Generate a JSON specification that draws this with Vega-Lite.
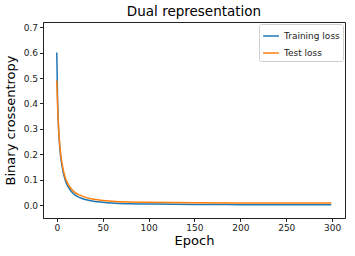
{
  "$schema": "https://vega.github.io/schema/vega-lite/v6.json",
  "width": 302,
  "height": 196,
  "autosize": "none",
  "padding": {"left": 43, "top": 22, "right": 10, "bottom": 38},
  "background": "white",
  "config": {
    "font": "DejaVu Sans",
    "view": {"stroke": "#222222", "strokeWidth": 1},
    "axis": {"grid": false, "domainColor": "#222222", "tickColor": "#222222", "labelColor": "#222222", "titleColor": "black", "labelFontSize": 9, "titleFontSize": 13, "titleFontWeight": "normal", "tickSize": 3.5, "labelPadding": 2}
  },
  "title": {"text": "Dual representation", "fontSize": 13.5, "fontWeight": "normal", "font": "DejaVu Sans", "offset": 4, "color": "black"},
  "data": {"values": [
    {"epoch": 0, "loss": 0.6, "series": "Training loss"},
    {"epoch": 1, "loss": 0.4, "series": "Training loss"},
    {"epoch": 2, "loss": 0.3, "series": "Training loss"},
    {"epoch": 3, "loss": 0.24, "series": "Training loss"},
    {"epoch": 4, "loss": 0.2, "series": "Training loss"},
    {"epoch": 5, "loss": 0.17, "series": "Training loss"},
    {"epoch": 6, "loss": 0.15, "series": "Training loss"},
    {"epoch": 7, "loss": 0.13, "series": "Training loss"},
    {"epoch": 8, "loss": 0.115, "series": "Training loss"},
    {"epoch": 10, "loss": 0.09, "series": "Training loss"},
    {"epoch": 12, "loss": 0.075, "series": "Training loss"},
    {"epoch": 15, "loss": 0.058, "series": "Training loss"},
    {"epoch": 20, "loss": 0.04, "series": "Training loss"},
    {"epoch": 25, "loss": 0.03, "series": "Training loss"},
    {"epoch": 30, "loss": 0.024, "series": "Training loss"},
    {"epoch": 40, "loss": 0.016, "series": "Training loss"},
    {"epoch": 50, "loss": 0.012, "series": "Training loss"},
    {"epoch": 60, "loss": 0.009, "series": "Training loss"},
    {"epoch": 80, "loss": 0.006, "series": "Training loss"},
    {"epoch": 100, "loss": 0.005, "series": "Training loss"},
    {"epoch": 150, "loss": 0.003, "series": "Training loss"},
    {"epoch": 200, "loss": 0.0025, "series": "Training loss"},
    {"epoch": 250, "loss": 0.002, "series": "Training loss"},
    {"epoch": 299, "loss": 0.002, "series": "Training loss"},
    {"epoch": 0, "loss": 0.49, "series": "Test loss"},
    {"epoch": 1, "loss": 0.38, "series": "Test loss"},
    {"epoch": 2, "loss": 0.3, "series": "Test loss"},
    {"epoch": 3, "loss": 0.25, "series": "Test loss"},
    {"epoch": 4, "loss": 0.21, "series": "Test loss"},
    {"epoch": 5, "loss": 0.18, "series": "Test loss"},
    {"epoch": 6, "loss": 0.16, "series": "Test loss"},
    {"epoch": 7, "loss": 0.14, "series": "Test loss"},
    {"epoch": 8, "loss": 0.125, "series": "Test loss"},
    {"epoch": 10, "loss": 0.1, "series": "Test loss"},
    {"epoch": 12, "loss": 0.085, "series": "Test loss"},
    {"epoch": 15, "loss": 0.068, "series": "Test loss"},
    {"epoch": 20, "loss": 0.05, "series": "Test loss"},
    {"epoch": 25, "loss": 0.04, "series": "Test loss"},
    {"epoch": 30, "loss": 0.033, "series": "Test loss"},
    {"epoch": 40, "loss": 0.024, "series": "Test loss"},
    {"epoch": 50, "loss": 0.019, "series": "Test loss"},
    {"epoch": 60, "loss": 0.016, "series": "Test loss"},
    {"epoch": 80, "loss": 0.013, "series": "Test loss"},
    {"epoch": 100, "loss": 0.012, "series": "Test loss"},
    {"epoch": 150, "loss": 0.01, "series": "Test loss"},
    {"epoch": 200, "loss": 0.009, "series": "Test loss"},
    {"epoch": 250, "loss": 0.009, "series": "Test loss"},
    {"epoch": 299, "loss": 0.009, "series": "Test loss"}
  ]},
  "mark": {"type": "line", "strokeWidth": 1.5, "interpolate": "monotone"},
  "encoding": {
    "x": {"field": "epoch", "type": "quantitative", "scale": {"domain": [-15, 314], "nice": false, "zero": false},
      "axis": {"title": "Epoch", "values": [0, 50, 100, 150, 200, 250, 300], "titlePadding": 2}},
    "y": {"field": "loss", "type": "quantitative", "scale": {"domain": [-0.05, 0.72], "nice": false, "zero": false},
      "axis": {"title": "Binary crossentropy", "values": [0, 0.1, 0.2, 0.3, 0.4, 0.5, 0.6, 0.7], "format": ".1f", "titlePadding": 6}},
    "color": {"field": "series", "type": "nominal",
      "scale": {"domain": ["Training loss", "Test loss"], "range": ["#1f77b4", "#ff7f0e"]},
      "legend": {"title": null, "orient": "top-right", "offset": 2, "symbolType": "stroke", "symbolStrokeWidth": 1.5, "symbolSize": 250, "labelFontSize": 9, "labelColor": "#222222", "fillColor": "white", "strokeColor": "#d0d0d0", "cornerRadius": 2, "padding": 3, "rowPadding": 3}}
  }
}
